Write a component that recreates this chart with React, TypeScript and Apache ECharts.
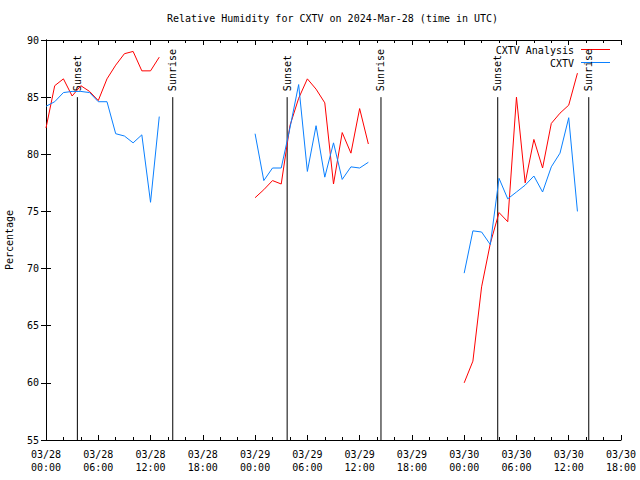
import React, { useEffect, useRef } from "react";
import * as echarts from "echarts";

const FONT = '"DejaVu Sans Mono", "Liberation Mono", monospace';

const titleText = "Relative Humidity for CXTV on 2024-Mar-28 (time in UTC)";
const yTitle = "Percentage";
const seriesNames = ["CXTV Analysis", "CXTV"];
const seriesColors = ["#ff0000", "#0a80ff"];

// hours since 2024-03-28 00:00 UTC
const hoursDay1 = [0, 1, 2, 3, 4, 5, 6, 7, 8, 9, 10, 11, 12, 13];
const hoursDay2 = [24, 25, 26, 27, 28, 29, 30, 31, 32, 33, 34, 35, 36, 37];
const hoursDay3 = [48, 49, 50, 51, 52, 53, 54, 55, 56, 57, 58, 59, 60, 61];

const analysisDay1 = [82.3, 86.0, 86.6, 85.1, 86.0, 85.5, 84.7, 86.6, 87.8, 88.8, 89.0, 87.3, 87.3, 88.5];
const analysisDay2 = [76.2, 76.9, 77.7, 77.4, 82.5, 84.9, 86.6, 85.7, 84.5, 77.4, 81.9, 80.1, 84.0, 80.9];
const analysisDay3 = [60.0, 61.9, 68.4, 72.2, 74.9, 74.1, 85.0, 77.5, 81.3, 78.8, 82.7, 83.6, 84.3, 87.1];

const obsDay1 = [84.2, 84.6, 85.4, 85.5, 85.5, 85.4, 84.6, 84.6, 81.8, 81.6, 81.0, 81.7, 75.8, 83.3];
const obsDay2 = [81.8, 77.7, 78.8, 78.8, 82.3, 86.1, 78.5, 82.5, 78.0, 81.0, 77.8, 78.9, 78.8, 79.3];
const obsDay3 = [69.6, 73.3, 73.2, 72.1, 77.9, 76.1, 76.7, 77.3, 78.1, 76.7, 78.9, 80.1, 83.2, 75.0];

const sunHours = [3.6, 14.55, 27.68, 38.45, 51.85, 62.3];
const sunLabels = ["Sunset", "Sunrise", "Sunset", "Sunrise", "Sunset", "Sunrise"];

const xMin = 0;
const xMax = 66;
const xInterval = 6;
const yMin = 55;
const yMax = 90;
const yInterval = 5;
const sunLineTop = 85;

function pairs(h: number[], v: number[]) {
  return h.map((x, i) => [x, v[i]]);
}

function fmtX(v: number) {
  const day = 28 + Math.floor(v / 24);
  const hr = Math.round(v % 24);
  return `03/${day}\n${String(hr).padStart(2, "0")}:00`;
}

export default function App() {
  const ref = useRef<HTMLDivElement>(null);
  useEffect(() => {
    if (!ref.current) return;
    const chart = echarts.init(ref.current, undefined, { renderer: "svg" });
    const axisLine = { show: true, lineStyle: { color: "#000", width: 1 } };
    const tick = { show: true, inside: true, length: 5, lineStyle: { color: "#000" } };
    const minorTick = { show: true, splitNumber: 3, length: 3, lineStyle: { color: "#000" } };
    const lineSeries = (name: string, color: string, data: number[][]) => ({
      type: "line",
      name,
      data,
      showSymbol: false,
      symbol: "none",
      lineStyle: { color, width: 1 },
      itemStyle: { color },
      xAxisIndex: 0,
      yAxisIndex: 0,
      z: 3,
    });
    const option: any = {
      animation: false,
      backgroundColor: "#fff",
      title: {
        text: titleText,
        left: 167,
        top: 13,
        padding: 0,
        textStyle: { fontFamily: FONT, fontSize: 10, fontWeight: "normal", color: "#000" },
      },
      grid: { left: 46, right: 19, top: 40, bottom: 40, containLabel: false, outerBoundsMode: "none" },
      xAxis: [
        {
          type: "value",
          min: xMin,
          max: xMax,
          interval: xInterval,
          position: "bottom",
          axisLine,
          axisTick: tick,
          minorTick,
          splitLine: { show: false },
          axisLabel: {
            formatter: fmtX,
            fontFamily: FONT,
            fontSize: 10,
            color: "#000",
            lineHeight: 13,
            margin: 8,
          },
        },
        {
          type: "value",
          min: xMin,
          max: xMax,
          interval: xInterval,
          position: "top",
          axisLine,
          axisTick: tick,
          minorTick,
          splitLine: { show: false },
          axisLabel: { show: false },
        },
      ],
      yAxis: [
        {
          type: "value",
          min: yMin,
          max: yMax,
          interval: yInterval,
          position: "left",
          axisLine,
          axisTick: tick,
          splitLine: { show: false },
          name: yTitle,
          nameLocation: "middle",
          nameRotate: 90,
          nameGap: 32,
          nameTextStyle: { fontFamily: FONT, fontSize: 10, color: "#000" },
          axisLabel: { fontFamily: FONT, fontSize: 10, color: "#000", margin: 7 },
        },
        {
          type: "value",
          min: yMin,
          max: yMax,
          interval: yInterval,
          position: "right",
          axisLine,
          axisTick: tick,
          splitLine: { show: false },
          axisLabel: { show: false },
        },
      ],
      series: [
        {
          type: "custom",
          name: "sun",
          xAxisIndex: 0,
          yAxisIndex: 0,
          data: sunHours.map((h) => [h]),
          z: 2,
          renderItem: (params: any, api: any) => {
            const h = api.value(0);
            const bottom = api.coord([h, yMin]);
            const top = api.coord([h, sunLineTop]);
            return {
              type: "group",
              children: [
                {
                  type: "line",
                  shape: { x1: bottom[0], y1: bottom[1], x2: top[0], y2: top[1] },
                  style: { stroke: "#000", lineWidth: 1 },
                },
                {
                  type: "text",
                  x: top[0],
                  y: top[1] - 6,
                  rotation: Math.PI / 2,
                  style: {
                    text: sunLabels[params.dataIndex],
                    fill: "#000",
                    font: `10px ${FONT}`,
                    align: "left",
                    verticalAlign: "middle",
                  },
                },
              ],
            };
          },
        },
        lineSeries(seriesNames[0], seriesColors[0], pairs(hoursDay1, analysisDay1)),
        lineSeries(seriesNames[0], seriesColors[0], pairs(hoursDay2, analysisDay2)),
        lineSeries(seriesNames[0], seriesColors[0], pairs(hoursDay3, analysisDay3)),
        lineSeries(seriesNames[1], seriesColors[1], pairs(hoursDay1, obsDay1)),
        lineSeries(seriesNames[1], seriesColors[1], pairs(hoursDay2, obsDay2)),
        lineSeries(seriesNames[1], seriesColors[1], pairs(hoursDay3, obsDay3)),
      ],
      graphic: [
        {
          type: "text",
          x: 574,
          y: 50,
          style: { text: seriesNames[0], fill: "#000", font: `10px ${FONT}`, align: "right", verticalAlign: "middle" },
        },
        {
          type: "line",
          shape: { x1: 581, y1: 49.5, x2: 610, y2: 49.5 },
          style: { stroke: seriesColors[0], lineWidth: 1 },
        },
        {
          type: "text",
          x: 574,
          y: 63,
          style: { text: seriesNames[1], fill: "#000", font: `10px ${FONT}`, align: "right", verticalAlign: "middle" },
        },
        {
          type: "line",
          shape: { x1: 581, y1: 62.5, x2: 610, y2: 62.5 },
          style: { stroke: seriesColors[1], lineWidth: 1 },
        },
      ],
    };
    chart.setOption(option);
    return () => chart.dispose();
  }, []);
  return (
    <div
      ref={ref}
      style={{ position: "absolute", left: 0, top: 0, width: 640, height: 480, background: "#fff" }}
    />
  );
}
